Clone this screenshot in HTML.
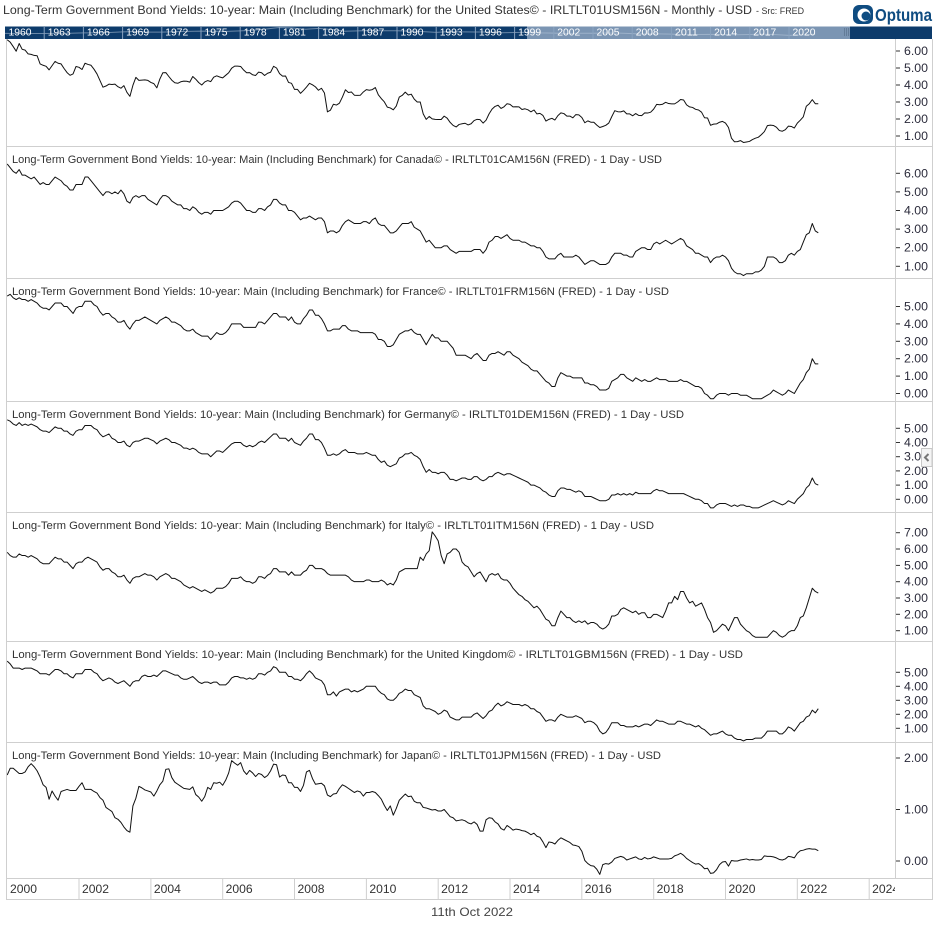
<!DOCTYPE html>
<html><head><meta charset="utf-8"><style>
html,body{margin:0;padding:0;background:#fff;}
svg{display:block;font-family:"Liberation Sans",sans-serif;}
</style></head><body>
<svg width="939" height="932" viewBox="0 0 939 932" xmlns="http://www.w3.org/2000/svg">
<defs>
<clipPath id="c1"><rect x="7" y="39" width="888" height="107"/></clipPath>
<clipPath id="c2"><rect x="7" y="147" width="888" height="131"/></clipPath>
<clipPath id="c3"><rect x="7" y="279" width="888" height="122"/></clipPath>
<clipPath id="c4"><rect x="7" y="402" width="888" height="110"/></clipPath>
<clipPath id="c5"><rect x="7" y="513" width="888" height="128"/></clipPath>
<clipPath id="c6"><rect x="7" y="642" width="888" height="100"/></clipPath>
<clipPath id="c7"><rect x="7" y="743" width="888" height="135"/></clipPath>
<clipPath id="cx"><rect x="7" y="879" width="888" height="20"/></clipPath>
<clipPath id="cn"><rect x="5" y="26.5" width="927" height="12.5"/></clipPath>
</defs>
<rect x="0" y="0" width="939" height="932" fill="#fff"/>

<!-- header -->
<text x="3" y="14" font-size="12" fill="#333" textLength="749" lengthAdjust="spacingAndGlyphs">Long-Term Government Bond Yields: 10-year: Main (Including Benchmark) for the United States© - IRLTLT01USM156N - Monthly - USD</text>
<text x="756" y="14" font-size="9" fill="#333" textLength="48" lengthAdjust="spacingAndGlyphs">- Src: FRED</text>
<rect x="853" y="5" width="20" height="19" rx="6" fill="#0f4c81"/>
<circle cx="864" cy="15" r="6.5" fill="#fff"/>
<circle cx="866" cy="16" r="4.5" fill="#0f4c81"/>
<text x="875" y="21" font-size="17.5" font-weight="bold" fill="#0f4c81" textLength="57" lengthAdjust="spacingAndGlyphs">Optuma</text>

<!-- navigator -->
<rect x="5" y="26.5" width="927" height="12.5" fill="#0d3b6b"/>
<rect x="527" y="26.5" width="323" height="12.5" fill="#7b95b3"/>
<g clip-path="url(#cn)">
<polyline fill="none" stroke="#b8c8da" stroke-opacity="0.55" stroke-width="1" vector-effect="non-scaling-stroke" transform="translate(5,35.86) scale(13.067,-0.6)" points="0,4.12 1,3.88 2,3.95 3,4.00 4,4.19 5,4.28 6,4.93 7,5.07 8,5.64 9,6.67 10,7.35 11,6.16 12,6.21 13,6.85 14,7.56 15,7.99 16,7.61 17,7.42 18,8.41 19,9.43 20,11.43 21,13.92 22,13.01 23,11.10 24,12.46 25,10.62 26,7.67 27,8.39 28,8.85 29,8.49 30,8.55 31,7.86 32,7.01 33,5.87 34,7.09 35,6.57 36,6.44 37,6.35 38,5.26 39,5.65 40,6.03 41,5.02 42,4.61 43,4.01 44,4.27 45,4.29 46,4.80 47,4.63 48,3.66 49,3.26 50,3.21 51,2.79 52,1.80 53,2.35 54,2.54 55,2.14 56,1.84 57,2.33 58,2.91 59,2.14 60,0.89 61,1.45 62,2.9"/>
</g>
<g stroke="#8aa3c0" stroke-width="1">
<line x1="44.2" y1="27" x2="44.2" y2="39"/><line x1="83.4" y1="27" x2="83.4" y2="39"/><line x1="122.6" y1="27" x2="122.6" y2="39"/><line x1="161.8" y1="27" x2="161.8" y2="39"/><line x1="201" y1="27" x2="201" y2="39"/><line x1="240.2" y1="27" x2="240.2" y2="39"/><line x1="279.4" y1="27" x2="279.4" y2="39"/><line x1="318.6" y1="27" x2="318.6" y2="39"/><line x1="357.8" y1="27" x2="357.8" y2="39"/><line x1="397" y1="27" x2="397" y2="39"/><line x1="436.2" y1="27" x2="436.2" y2="39"/><line x1="475.4" y1="27" x2="475.4" y2="39"/><line x1="514.6" y1="27" x2="514.6" y2="39"/><line x1="553.8" y1="27" x2="553.8" y2="39"/><line x1="593" y1="27" x2="593" y2="39"/><line x1="632.2" y1="27" x2="632.2" y2="39"/><line x1="671.4" y1="27" x2="671.4" y2="39"/><line x1="710.6" y1="27" x2="710.6" y2="39"/><line x1="749.8" y1="27" x2="749.8" y2="39"/><line x1="789" y1="27" x2="789" y2="39"/>
</g>
<g stroke="#5e7691" stroke-width="0.8">
<line x1="844.5" y1="28" x2="844.5" y2="36"/><line x1="846.5" y1="28" x2="846.5" y2="36"/><line x1="848.5" y1="28" x2="848.5" y2="36"/>
</g>
<g font-size="10.5" fill="#fff">
<text x="8.5" y="35.5" textLength="23" lengthAdjust="spacingAndGlyphs">1960</text>
<text x="47.7" y="35.5" textLength="23" lengthAdjust="spacingAndGlyphs">1963</text>
<text x="86.9" y="35.5" textLength="23" lengthAdjust="spacingAndGlyphs">1966</text>
<text x="126.1" y="35.5" textLength="23" lengthAdjust="spacingAndGlyphs">1969</text>
<text x="165.3" y="35.5" textLength="23" lengthAdjust="spacingAndGlyphs">1972</text>
<text x="204.5" y="35.5" textLength="23" lengthAdjust="spacingAndGlyphs">1975</text>
<text x="243.7" y="35.5" textLength="23" lengthAdjust="spacingAndGlyphs">1978</text>
<text x="282.9" y="35.5" textLength="23" lengthAdjust="spacingAndGlyphs">1981</text>
<text x="322.1" y="35.5" textLength="23" lengthAdjust="spacingAndGlyphs">1984</text>
<text x="361.3" y="35.5" textLength="23" lengthAdjust="spacingAndGlyphs">1987</text>
<text x="400.5" y="35.5" textLength="23" lengthAdjust="spacingAndGlyphs">1990</text>
<text x="439.7" y="35.5" textLength="23" lengthAdjust="spacingAndGlyphs">1993</text>
<text x="478.9" y="35.5" textLength="23" lengthAdjust="spacingAndGlyphs">1996</text>
<text x="518.1" y="35.5" textLength="23" lengthAdjust="spacingAndGlyphs">1999</text>
<text x="557.3" y="35.5" textLength="23" lengthAdjust="spacingAndGlyphs">2002</text>
<text x="596.5" y="35.5" textLength="23" lengthAdjust="spacingAndGlyphs">2005</text>
<text x="635.7" y="35.5" textLength="23" lengthAdjust="spacingAndGlyphs">2008</text>
<text x="674.9" y="35.5" textLength="23" lengthAdjust="spacingAndGlyphs">2011</text>
<text x="714.1" y="35.5" textLength="23" lengthAdjust="spacingAndGlyphs">2014</text>
<text x="753.3" y="35.5" textLength="23" lengthAdjust="spacingAndGlyphs">2017</text>
<text x="792.5" y="35.5" textLength="23" lengthAdjust="spacingAndGlyphs">2020</text>
</g>

<!-- frame -->
<g stroke="#cfcfcf" stroke-width="1" fill="none">
<line x1="6.5" y1="39" x2="6.5" y2="900"/>
<line x1="932.5" y1="39" x2="932.5" y2="900"/>
<line x1="895.5" y1="39" x2="895.5" y2="878"/>
<line x1="6" y1="146.5" x2="933" y2="146.5"/>
<line x1="6" y1="278.5" x2="933" y2="278.5"/>
<line x1="6" y1="401.5" x2="933" y2="401.5"/>
<line x1="6" y1="512.5" x2="933" y2="512.5"/>
<line x1="6" y1="641.5" x2="933" y2="641.5"/>
<line x1="6" y1="742.5" x2="933" y2="742.5"/>
<line x1="6" y1="878.5" x2="933" y2="878.5"/>
<line x1="6" y1="899.5" x2="933" y2="899.5"/>
<line x1="79" y1="879" x2="79" y2="899"/><line x1="150.9" y1="879" x2="150.9" y2="899"/><line x1="222.7" y1="879" x2="222.7" y2="899"/><line x1="294.5" y1="879" x2="294.5" y2="899"/><line x1="366.4" y1="879" x2="366.4" y2="899"/><line x1="438.2" y1="879" x2="438.2" y2="899"/><line x1="510" y1="879" x2="510" y2="899"/><line x1="581.8" y1="879" x2="581.8" y2="899"/><line x1="653.7" y1="879" x2="653.7" y2="899"/><line x1="725.5" y1="879" x2="725.5" y2="899"/><line x1="797.3" y1="879" x2="797.3" y2="899"/><line x1="869.2" y1="879" x2="869.2" y2="899"/>
</g>

<!-- x axis labels -->
<g font-size="12" fill="#333" clip-path="url(#cx)">
<text x="10" y="893" textLength="27" lengthAdjust="spacingAndGlyphs">2000</text>
<text x="82" y="893" textLength="27" lengthAdjust="spacingAndGlyphs">2002</text>
<text x="153.9" y="893" textLength="27" lengthAdjust="spacingAndGlyphs">2004</text>
<text x="225.7" y="893" textLength="27" lengthAdjust="spacingAndGlyphs">2006</text>
<text x="297.5" y="893" textLength="27" lengthAdjust="spacingAndGlyphs">2008</text>
<text x="369.4" y="893" textLength="27" lengthAdjust="spacingAndGlyphs">2010</text>
<text x="441.2" y="893" textLength="27" lengthAdjust="spacingAndGlyphs">2012</text>
<text x="513" y="893" textLength="27" lengthAdjust="spacingAndGlyphs">2014</text>
<text x="584.8" y="893" textLength="27" lengthAdjust="spacingAndGlyphs">2016</text>
<text x="656.7" y="893" textLength="27" lengthAdjust="spacingAndGlyphs">2018</text>
<text x="728.5" y="893" textLength="27" lengthAdjust="spacingAndGlyphs">2020</text>
<text x="800.3" y="893" textLength="27" lengthAdjust="spacingAndGlyphs">2022</text>
<text x="872.2" y="893" textLength="27" lengthAdjust="spacingAndGlyphs">2024</text>
</g>
<text x="431" y="916" font-size="12" fill="#444" textLength="82" lengthAdjust="spacingAndGlyphs">11th Oct 2022</text>

<!-- panel titles -->
<g font-size="11" fill="#333">
<text x="12" y="163" textLength="650" lengthAdjust="spacingAndGlyphs">Long-Term Government Bond Yields: 10-year: Main (Including Benchmark) for Canada© - IRLTLT01CAM156N (FRED) - 1 Day - USD</text>
<text x="12" y="295" textLength="657" lengthAdjust="spacingAndGlyphs">Long-Term Government Bond Yields: 10-year: Main (Including Benchmark) for France© - IRLTLT01FRM156N (FRED) - 1 Day - USD</text>
<text x="12" y="418" textLength="672" lengthAdjust="spacingAndGlyphs">Long-Term Government Bond Yields: 10-year: Main (Including Benchmark) for Germany© - IRLTLT01DEM156N (FRED) - 1 Day - USD</text>
<text x="12" y="529" textLength="642" lengthAdjust="spacingAndGlyphs">Long-Term Government Bond Yields: 10-year: Main (Including Benchmark) for Italy© - IRLTLT01ITM156N (FRED) - 1 Day - USD</text>
<text x="12" y="658" textLength="731" lengthAdjust="spacingAndGlyphs">Long-Term Government Bond Yields: 10-year: Main (Including Benchmark) for the United Kingdom© - IRLTLT01GBM156N (FRED) - 1 Day - USD</text>
<text x="12" y="759" textLength="649" lengthAdjust="spacingAndGlyphs">Long-Term Government Bond Yields: 10-year: Main (Including Benchmark) for Japan© - IRLTLT01JPM156N (FRED) - 1 Day - USD</text>
</g>

<!-- series -->
<g fill="none" stroke="#111" stroke-width="1" stroke-linejoin="round">
<g clip-path="url(#c1)"><polyline vector-effect="non-scaling-stroke" transform="translate(7.2,153) scale(2.9929,-17)" points="0,6.66 1,6.52 2,6.26 3,5.99 4,6.44 5,6.10 6,6.05 7,5.83 8,5.80 9,5.74 10,5.72 11,5.24 12,5.16 13,5.10 14,4.89 15,5.14 16,5.39 17,5.28 18,5.24 19,4.97 20,4.73 21,4.57 22,4.65 23,5.09 24,5.04 25,4.91 26,5.28 27,5.21 28,5.16 29,4.93 30,4.65 31,4.26 32,3.87 33,3.94 34,4.05 35,4.03 36,4.05 37,3.90 38,3.81 39,3.96 40,3.57 41,3.33 42,3.98 43,4.45 44,4.27 45,4.29 46,4.30 47,4.27 48,4.15 49,4.08 50,3.83 51,4.35 52,4.72 53,4.73 54,4.50 55,4.28 56,4.13 57,4.10 58,4.19 59,4.23 60,4.22 61,4.17 62,4.50 63,4.34 64,4.14 65,4.00 66,4.18 67,4.26 68,4.20 69,4.46 70,4.54 71,4.47 72,4.42 73,4.57 74,4.72 75,4.99 76,5.11 77,5.11 78,5.09 79,4.88 80,4.72 81,4.73 82,4.60 83,4.56 84,4.76 85,4.72 86,4.56 87,4.69 88,4.75 89,5.10 90,5.00 91,4.67 92,4.52 93,4.53 94,4.15 95,4.10 96,3.74 97,3.74 98,3.51 99,3.68 100,3.88 101,4.10 102,4.01 103,3.89 104,3.69 105,3.81 106,3.53 107,2.42 108,2.52 109,2.87 110,2.82 111,2.93 112,3.29 113,3.72 114,3.56 115,3.59 116,3.40 117,3.39 118,3.40 119,3.59 120,3.73 121,3.69 122,3.73 123,3.85 124,3.42 125,3.20 126,3.01 127,2.70 128,2.65 129,2.54 130,2.76 131,3.29 132,3.39 133,3.58 134,3.41 135,3.46 136,3.17 137,3.00 138,3.00 139,2.30 140,1.98 141,2.15 142,2.01 143,1.98 144,1.97 145,1.97 146,2.17 147,2.05 148,1.80 149,1.62 150,1.53 151,1.68 152,1.72 153,1.75 154,1.65 155,1.72 156,1.91 157,1.98 158,1.96 159,1.76 160,1.93 161,2.30 162,2.58 163,2.74 164,2.81 165,2.62 166,2.72 167,2.90 168,2.86 169,2.71 170,2.72 171,2.71 172,2.56 173,2.60 174,2.54 175,2.42 176,2.53 177,2.30 178,2.33 179,2.21 180,1.88 181,1.98 182,2.04 183,1.94 184,2.20 185,2.36 186,2.32 187,2.17 188,2.17 189,2.07 190,2.26 191,2.24 192,2.09 193,1.78 194,1.89 195,1.81 196,1.81 197,1.64 198,1.50 199,1.56 200,1.63 201,1.76 202,2.14 203,2.49 204,2.43 205,2.42 206,2.48 207,2.30 208,2.30 209,2.19 210,2.32 211,2.21 212,2.20 213,2.36 214,2.35 215,2.40 216,2.58 217,2.86 218,2.84 219,2.87 220,2.98 221,2.91 222,2.89 223,2.89 224,3.00 225,3.15 226,3.12 227,2.83 228,2.71 229,2.68 230,2.57 231,2.53 232,2.40 233,2.07 234,2.06 235,1.63 236,1.70 237,1.71 238,1.81 239,1.86 240,1.76 241,1.50 242,0.87 243,0.66 244,0.67 245,0.73 246,0.62 247,0.65 248,0.68 249,0.79 250,0.87 251,0.93 252,1.08 253,1.26 254,1.61 255,1.64 256,1.62 257,1.52 258,1.32 259,1.28 260,1.37 261,1.58 262,1.56 263,1.47 264,1.76 265,1.93 266,2.13 267,2.75 268,2.90 269,3.14 270,2.90 271,2.90"/></g>
<g clip-path="url(#c2)"><polyline vector-effect="non-scaling-stroke" transform="translate(7.2,284.9) scale(2.9929,-18.6)" points="0,6.5 1,6.3 2,6.1 3,6.0 4,6.2 5,5.9 6,5.9 7,5.8 8,5.7 9,5.8 10,5.6 11,5.4 12,5.5 13,5.4 14,5.4 15,5.6 16,5.8 17,5.7 18,5.6 19,5.4 20,5.3 21,5.1 22,5.1 23,5.4 24,5.4 25,5.4 26,5.8 27,5.8 28,5.6 29,5.4 30,5.2 31,5.0 32,4.8 33,5.0 34,5.0 35,4.9 36,5.0 37,4.9 38,5.1 39,4.9 40,4.5 41,4.4 42,4.7 43,4.8 44,4.7 45,4.8 46,4.8 47,4.6 48,4.5 49,4.4 50,4.3 51,4.6 52,4.8 53,4.8 54,4.7 55,4.5 56,4.4 57,4.3 58,4.3 59,4.1 60,4.1 61,4.0 62,4.2 63,4.1 64,3.9 65,3.8 66,3.9 67,3.9 68,3.8 69,4.0 70,4.0 71,4.0 72,4.0 73,4.1 74,4.2 75,4.4 76,4.5 77,4.5 78,4.4 79,4.2 80,4.0 81,4.0 82,3.9 83,3.9 84,4.1 85,4.1 86,4.0 87,4.2 88,4.3 89,4.6 90,4.6 91,4.4 92,4.3 93,4.3 94,4.0 95,4.0 96,3.9 97,3.7 98,3.5 99,3.6 100,3.6 101,3.7 102,3.6 103,3.5 104,3.6 105,3.6 106,3.4 107,2.8 108,2.9 109,2.9 110,2.8 111,2.9 112,3.2 113,3.4 114,3.5 115,3.4 116,3.3 117,3.3 118,3.3 119,3.4 120,3.4 121,3.3 122,3.5 123,3.6 124,3.3 125,3.2 126,3.2 127,3.0 128,2.8 129,2.8 130,2.9 131,3.1 132,3.3 133,3.3 134,3.3 135,3.4 136,3.1 137,3.0 138,2.9 139,2.6 140,2.3 141,2.4 142,2.2 143,2.0 144,2.0 145,2.0 146,2.1 147,2.1 148,1.9 149,1.8 150,1.7 151,1.8 152,1.8 153,1.8 154,1.8 155,1.8 156,1.9 157,1.9 158,1.9 159,1.7 160,1.9 161,2.3 162,2.4 163,2.6 164,2.6 165,2.5 166,2.6 167,2.7 168,2.5 169,2.4 170,2.4 171,2.4 172,2.3 173,2.3 174,2.2 175,2.1 176,2.1 177,2.0 178,2.0 179,1.8 180,1.5 181,1.4 182,1.4 183,1.4 184,1.6 185,1.7 186,1.5 187,1.5 188,1.5 189,1.5 190,1.6 191,1.5 192,1.3 193,1.1 194,1.2 195,1.3 196,1.3 197,1.2 198,1.1 199,1.1 200,1.1 201,1.2 202,1.5 203,1.7 204,1.7 205,1.7 206,1.6 207,1.6 208,1.5 209,1.5 210,1.8 211,1.9 212,2.0 213,2.0 214,1.9 215,1.9 216,2.2 217,2.3 218,2.2 219,2.3 220,2.4 221,2.3 222,2.2 223,2.3 224,2.4 225,2.5 226,2.4 227,2.1 228,2.0 229,1.9 230,1.7 231,1.7 232,1.6 233,1.5 234,1.5 235,1.2 236,1.4 237,1.5 238,1.5 239,1.6 240,1.5 241,1.3 242,0.9 243,0.7 244,0.6 245,0.6 246,0.5 247,0.6 248,0.6 249,0.6 250,0.7 251,0.7 252,0.8 253,1.0 254,1.5 255,1.5 256,1.5 257,1.4 258,1.2 259,1.2 260,1.3 261,1.6 262,1.7 263,1.6 264,1.8 265,1.9 266,2.3 267,2.7 268,2.8 269,3.3 270,2.9 271,2.8"/></g>
<g clip-path="url(#c3)"><polyline vector-effect="non-scaling-stroke" transform="translate(7.2,393.5) scale(2.9929,-17.4)" points="0,5.6 1,5.7 2,5.5 3,5.4 4,5.5 5,5.4 6,5.4 7,5.3 8,5.4 9,5.3 10,5.2 11,5.0 12,4.9 13,4.9 14,4.8 15,5.0 16,5.2 17,5.2 18,5.2 19,5.0 20,5.0 21,4.8 22,4.6 23,4.9 24,5.0 25,5.0 26,5.3 27,5.3 28,5.3 29,5.1 30,5.0 31,4.7 32,4.5 33,4.6 34,4.6 35,4.4 36,4.3 37,4.1 38,4.1 39,4.2 40,3.9 41,3.7 42,4.0 43,4.2 44,4.2 45,4.3 46,4.4 47,4.3 48,4.2 49,4.1 50,4.0 51,4.2 52,4.3 53,4.4 54,4.3 55,4.1 56,4.1 57,4.0 58,3.9 59,3.7 60,3.6 61,3.6 62,3.7 63,3.5 64,3.4 65,3.3 66,3.3 67,3.3 68,3.1 69,3.3 70,3.5 71,3.4 72,3.4 73,3.5 74,3.7 75,4.0 76,4.0 77,4.0 78,4.0 79,3.8 80,3.8 81,3.8 82,3.8 83,3.8 84,4.1 85,4.1 86,4.0 87,4.2 88,4.4 89,4.6 90,4.6 91,4.4 92,4.4 93,4.4 94,4.2 95,4.4 96,4.1 97,4.0 98,4.0 99,4.3 100,4.5 101,4.8 102,4.8 103,4.5 104,4.5 105,4.3 106,4.0 107,3.6 108,3.6 109,3.7 110,3.7 111,3.7 112,3.9 113,3.9 114,3.7 115,3.6 116,3.6 117,3.6 118,3.5 119,3.5 120,3.5 121,3.5 122,3.5 123,3.4 124,3.1 125,3.1 126,3.0 127,2.7 128,2.7 129,2.8 130,3.1 131,3.4 132,3.5 133,3.6 134,3.6 135,3.7 136,3.5 137,3.4 138,3.4 139,3.1 140,2.8 141,3.1 142,3.4 143,3.2 144,3.2 145,3.0 146,3.0 147,3.0 148,2.8 149,2.6 150,2.2 151,2.2 152,2.2 153,2.2 154,2.1 155,2.0 156,2.2 157,2.3 158,2.1 159,1.9 160,1.9 161,2.2 162,2.3 163,2.3 164,2.4 165,2.3 166,2.2 167,2.4 168,2.4 169,2.2 170,2.1 171,2.0 172,1.8 173,1.7 174,1.6 175,1.4 176,1.3 177,1.3 178,1.1 179,0.9 180,0.7 181,0.6 182,0.4 183,0.4 184,0.9 185,1.2 186,1.1 187,1.0 188,1.0 189,0.9 190,0.9 191,0.9 192,0.9 193,0.6 194,0.6 195,0.5 196,0.5 197,0.4 198,0.2 199,0.2 200,0.2 201,0.3 202,0.7 203,0.8 204,0.9 205,1.1 206,1.1 207,0.9 208,0.8 209,0.7 210,0.9 211,0.8 212,0.7 213,0.8 214,0.7 215,0.7 216,0.8 217,0.9 218,0.8 219,0.8 220,0.8 221,0.7 222,0.7 223,0.7 224,0.7 225,0.8 226,0.7 227,0.7 228,0.6 229,0.5 230,0.4 231,0.4 232,0.3 233,0.0 234,-0.1 235,-0.3 236,-0.3 237,-0.1 238,0.0 239,0.0 240,0.0 241,-0.1 242,0.0 243,0.0 244,0.0 245,-0.1 246,-0.1 247,-0.1 248,-0.2 249,-0.3 250,-0.3 251,-0.3 252,-0.3 253,-0.2 254,-0.1 255,0.0 256,0.2 257,0.1 258,0.0 259,-0.1 260,0.0 261,0.2 262,0.1 263,0.0 264,0.3 265,0.6 266,0.8 267,1.2 268,1.4 269,2.0 270,1.7 271,1.7"/></g>
<g clip-path="url(#c4)"><polyline vector-effect="non-scaling-stroke" transform="translate(7.2,499.3) scale(2.9929,-14.2)" points="0,5.6 1,5.5 2,5.3 3,5.2 4,5.4 5,5.2 6,5.3 7,5.2 8,5.3 9,5.2 10,5.1 11,4.9 12,4.8 13,4.8 14,4.7 15,4.9 16,5.1 17,5.0 18,5.0 19,4.8 20,4.8 21,4.6 22,4.5 23,4.8 24,4.9 25,4.9 26,5.2 27,5.2 28,5.2 29,5.0 30,4.9 31,4.6 32,4.4 33,4.5 34,4.6 35,4.3 36,4.2 37,4.0 38,4.0 39,4.1 40,3.8 41,3.7 42,4.0 43,4.1 44,4.1 45,4.2 46,4.3 47,4.3 48,4.2 49,4.1 50,3.9 51,4.1 52,4.2 53,4.3 54,4.2 55,4.0 56,4.0 57,3.9 58,3.8 59,3.6 60,3.6 61,3.5 62,3.6 63,3.5 64,3.3 65,3.2 66,3.2 67,3.2 68,3.0 69,3.2 70,3.4 71,3.4 72,3.3 73,3.5 74,3.7 75,3.9 76,4.0 77,4.0 78,4.0 79,3.8 80,3.7 81,3.8 82,3.7 83,3.8 84,4.0 85,4.1 86,4.0 87,4.2 88,4.4 89,4.6 90,4.6 91,4.3 92,4.3 93,4.3 94,4.1 95,4.3 96,4.0 97,3.9 98,3.8 99,4.1 100,4.3 101,4.6 102,4.6 103,4.2 104,4.2 105,4.0 106,3.6 107,3.1 108,3.1 109,3.2 110,3.1 111,3.2 112,3.4 113,3.5 114,3.3 115,3.3 116,3.3 117,3.2 118,3.2 119,3.2 120,3.3 121,3.2 122,3.1 123,3.1 124,2.8 125,2.6 126,2.7 127,2.4 128,2.3 129,2.4 130,2.5 131,2.9 132,3.0 133,3.2 134,3.2 135,3.3 136,3.1 137,3.0 138,2.8 139,2.3 140,1.9 141,2.1 142,1.9 143,1.9 144,1.8 145,1.9 146,1.9 147,1.7 148,1.4 149,1.4 150,1.3 151,1.4 152,1.5 153,1.5 154,1.4 155,1.4 156,1.6 157,1.6 158,1.4 159,1.3 160,1.4 161,1.6 162,1.6 163,1.8 164,1.9 165,1.8 166,1.7 167,1.8 168,1.8 169,1.7 170,1.6 171,1.5 172,1.4 173,1.3 174,1.2 175,1.0 176,1.0 177,0.9 178,0.8 179,0.6 180,0.5 181,0.3 182,0.2 183,0.2 184,0.6 185,0.8 186,0.8 187,0.7 188,0.7 189,0.6 190,0.5 191,0.6 192,0.5 193,0.2 194,0.2 195,0.2 196,0.1 197,0.0 198,-0.1 199,-0.1 200,-0.1 201,0.0 202,0.3 203,0.3 204,0.4 205,0.3 206,0.4 207,0.3 208,0.4 209,0.3 210,0.5 211,0.4 212,0.4 213,0.4 214,0.4 215,0.4 216,0.6 217,0.7 218,0.6 219,0.6 220,0.5 221,0.4 222,0.4 223,0.4 224,0.4 225,0.4 226,0.4 227,0.3 228,0.2 229,0.1 230,0.0 231,0.0 232,-0.1 233,-0.3 234,-0.3 235,-0.6 236,-0.6 237,-0.4 238,-0.3 239,-0.3 240,-0.3 241,-0.4 242,-0.5 243,-0.4 244,-0.5 245,-0.4 246,-0.4 247,-0.5 248,-0.5 249,-0.6 250,-0.6 251,-0.6 252,-0.5 253,-0.4 254,-0.3 255,-0.2 256,-0.1 257,-0.2 258,-0.3 259,-0.4 260,-0.3 261,-0.1 262,-0.2 263,-0.3 264,0.0 265,0.2 266,0.4 267,0.8 268,1.0 269,1.5 270,1.1 271,1.0"/></g>
<g clip-path="url(#c5)"><polyline vector-effect="non-scaling-stroke" transform="translate(7.2,647) scale(2.9929,-16.33)" points="0,5.8 1,5.6 2,5.5 3,5.5 4,5.7 5,5.6 6,5.6 7,5.5 8,5.6 9,5.5 10,5.4 11,5.2 12,5.1 13,5.1 14,5.1 15,5.3 16,5.5 17,5.4 18,5.4 19,5.2 20,5.2 21,5.0 22,4.8 23,5.1 24,5.2 25,5.2 26,5.4 27,5.5 28,5.4 29,5.3 30,5.2 31,4.9 32,4.7 33,4.8 34,4.8 35,4.6 36,4.5 37,4.3 38,4.3 39,4.4 40,4.1 41,3.9 42,4.2 43,4.3 44,4.3 45,4.4 46,4.5 47,4.4 48,4.4 49,4.3 50,4.1 51,4.3 52,4.4 53,4.5 54,4.4 55,4.2 56,4.2 57,4.1 58,4.0 59,3.8 60,3.7 61,3.6 62,3.7 63,3.6 64,3.5 65,3.4 66,3.5 67,3.4 68,3.3 69,3.4 70,3.6 71,3.6 72,3.6 73,3.7 74,3.9 75,4.2 76,4.2 77,4.2 78,4.3 79,4.1 80,4.0 81,4.0 82,3.9 83,4.0 84,4.3 85,4.3 86,4.2 87,4.4 88,4.5 89,4.8 90,4.8 91,4.6 92,4.6 93,4.6 94,4.4 95,4.6 96,4.4 97,4.4 98,4.4 99,4.6 100,4.7 101,5.0 102,5.0 103,4.8 104,4.8 105,4.8 106,4.7 107,4.5 108,4.4 109,4.4 110,4.4 111,4.4 112,4.4 113,4.4 114,4.3 115,4.1 116,4.0 117,4.0 118,4.0 119,4.0 120,4.1 121,4.1 122,4.0 123,4.0 124,4.0 125,4.1 126,4.0 127,3.8 128,3.9 129,3.8 130,4.1 131,4.6 132,4.7 133,4.8 134,4.8 135,4.8 136,4.8 137,4.8 138,5.5 139,5.3 140,5.7 141,5.9 142,7.05 143,6.8 144,6.5 145,5.6 146,5.1 147,5.7 148,5.8 149,6.0 150,6.0 151,5.8 152,5.2 153,5.0 154,4.9 155,4.6 156,4.3 157,4.5 158,4.6 159,4.3 160,4.0 161,4.4 162,4.5 163,4.4 164,4.5 165,4.2 166,4.1 167,4.1 168,3.9 169,3.6 170,3.4 171,3.2 172,3.1 173,2.9 174,2.8 175,2.6 176,2.4 177,2.5 178,2.3 179,2.0 180,1.7 181,1.6 182,1.3 183,1.3 184,1.8 185,2.2 186,2.0 187,1.8 188,1.8 189,1.6 190,1.5 191,1.6 192,1.5 193,1.6 194,1.4 195,1.5 196,1.5 197,1.4 198,1.2 199,1.1 200,1.2 201,1.4 202,1.9 203,1.9 204,2.0 205,2.3 206,2.4 207,2.3 208,2.2 209,2.1 210,2.2 211,2.0 212,2.1 213,2.1 214,1.8 215,1.8 216,2.0 217,2.0 218,1.9 219,1.8 220,2.2 221,2.7 222,2.7 223,3.1 224,2.9 225,3.4 226,3.4 227,3.0 228,2.7 229,2.8 230,2.5 231,2.6 232,2.7 233,2.3 234,1.8 235,1.5 236,0.9 237,1.0 238,1.2 239,1.4 240,1.3 241,1.0 242,1.4 243,1.8 244,1.8 245,1.4 246,1.2 247,1.0 248,0.9 249,0.7 250,0.6 251,0.6 252,0.6 253,0.6 254,0.6 255,0.8 256,1.0 257,0.9 258,0.7 259,0.6 260,0.7 261,0.9 262,1.0 263,1.0 264,1.3 265,1.8 266,1.9 267,2.4 268,3.0 269,3.6 270,3.4 271,3.3"/></g>
<g clip-path="url(#c6)"><polyline vector-effect="non-scaling-stroke" transform="translate(7.2,742.3) scale(2.9929,-14)" points="0,5.8 1,5.6 2,5.3 3,5.3 4,5.3 5,5.2 6,5.3 7,5.3 8,5.3 9,5.2 10,5.1 11,4.9 12,4.9 13,4.9 14,4.8 15,5.0 16,5.2 17,5.2 18,5.1 19,4.9 20,4.9 21,4.7 22,4.6 23,4.9 24,4.9 25,4.9 26,5.2 27,5.2 28,5.2 29,5.0 30,4.9 31,4.6 32,4.4 33,4.5 34,4.6 35,4.5 36,4.3 37,4.2 38,4.3 39,4.4 40,4.2 41,4.0 42,4.3 43,4.4 44,4.4 45,4.7 46,4.8 47,4.7 48,4.7 49,4.8 50,4.7 51,4.9 52,5.1 53,5.1 54,5.0 55,4.9 56,4.8 57,4.8 58,4.6 59,4.5 60,4.5 61,4.6 62,4.7 63,4.5 64,4.3 65,4.2 66,4.3 67,4.3 68,4.2 69,4.3 70,4.3 71,4.1 72,4.1 73,4.1 74,4.3 75,4.6 76,4.7 77,4.7 78,4.6 79,4.6 80,4.5 81,4.6 82,4.5 83,4.6 84,4.9 85,4.9 86,4.8 87,5.0 88,5.1 89,5.4 90,5.3 91,5.0 92,5.0 93,5.0 94,4.7 95,4.7 96,4.5 97,4.5 98,4.4 99,4.6 100,4.9 101,5.1 102,4.9 103,4.6 104,4.5 105,4.4 106,4.1 107,3.4 108,3.4 109,3.6 110,3.3 111,3.6 112,3.7 113,3.8 114,3.8 115,3.6 116,3.7 117,3.6 118,3.7 119,3.8 120,4.0 121,4.0 122,4.0 123,4.0 124,3.7 125,3.5 126,3.4 127,3.1 128,3.0 129,3.0 130,3.2 131,3.5 132,3.6 133,3.8 134,3.7 135,3.7 136,3.4 137,3.3 138,3.2 139,2.6 140,2.4 141,2.4 142,2.3 143,2.2 144,2.0 145,2.1 146,2.3 147,2.2 148,1.8 149,1.7 150,1.6 151,1.6 152,1.8 153,1.8 154,1.8 155,1.8 156,2.0 157,2.1 158,1.9 159,1.7 160,1.9 161,2.2 162,2.3 163,2.6 164,2.8 165,2.6 166,2.7 167,2.9 168,2.8 169,2.7 170,2.7 171,2.7 172,2.6 173,2.7 174,2.6 175,2.4 176,2.4 177,2.2 178,2.1 179,1.8 180,1.5 181,1.6 182,1.6 183,1.5 184,1.8 185,2.0 186,1.9 187,1.8 188,1.8 189,1.8 190,1.9 191,1.8 192,1.7 193,1.4 194,1.5 195,1.5 196,1.4 197,1.2 198,0.8 199,0.6 200,0.7 201,1.0 202,1.4 203,1.4 204,1.4 205,1.2 206,1.2 207,1.1 208,1.1 209,1.1 210,1.2 211,1.1 212,1.2 213,1.3 214,1.3 215,1.2 216,1.4 217,1.6 218,1.5 219,1.5 220,1.4 221,1.3 222,1.3 223,1.3 224,1.5 225,1.5 226,1.4 227,1.3 228,1.3 229,1.2 230,1.1 231,1.2 232,1.0 233,0.9 234,0.7 235,0.5 236,0.6 237,0.6 238,0.7 239,0.8 240,0.6 241,0.5 242,0.5 243,0.3 244,0.2 245,0.2 246,0.1 247,0.2 248,0.2 249,0.2 250,0.3 251,0.3 252,0.3 253,0.5 254,0.8 255,0.8 256,0.8 257,0.8 258,0.6 259,0.6 260,0.8 261,1.1 262,1.0 263,0.8 264,1.1 265,1.4 266,1.5 267,1.8 268,1.9 269,2.3 270,2.1 271,2.4"/></g>
<g clip-path="url(#c7)"><polyline vector-effect="non-scaling-stroke" transform="translate(7.2,861) scale(2.9929,-51.5)" points="0,1.67 1,1.80 2,1.80 3,1.75 4,1.70 5,1.70 6,1.73 7,1.83 8,1.89 9,1.83 10,1.75 11,1.63 12,1.48 13,1.43 14,1.20 15,1.36 16,1.26 17,1.18 18,1.35 19,1.37 20,1.39 21,1.37 22,1.37 23,1.37 24,1.45 25,1.52 26,1.39 27,1.39 28,1.39 29,1.35 30,1.32 31,1.23 32,1.18 33,1.04 34,1.00 35,0.96 36,0.84 37,0.81 38,0.75 39,0.66 40,0.59 41,0.56 42,1.07 43,1.22 44,1.45 45,1.42 46,1.38 47,1.36 48,1.34 49,1.26 50,1.36 51,1.48 52,1.55 53,1.78 54,1.79 55,1.62 56,1.53 57,1.49 58,1.45 59,1.41 60,1.40 61,1.39 62,1.44 63,1.29 64,1.24 65,1.16 66,1.25 67,1.43 68,1.39 69,1.52 70,1.51 71,1.53 72,1.47 73,1.57 74,1.71 75,1.95 76,1.90 77,1.86 78,1.91 79,1.75 80,1.68 81,1.76 82,1.71 83,1.64 84,1.70 85,1.68 86,1.62 87,1.66 88,1.75 89,1.88 90,1.87 91,1.63 92,1.67 93,1.66 94,1.52 95,1.52 96,1.43 97,1.43 98,1.35 99,1.47 100,1.73 101,1.76 102,1.60 103,1.49 104,1.50 105,1.51 106,1.46 107,1.28 108,1.25 109,1.30 110,1.31 111,1.41 112,1.48 113,1.45 114,1.41 115,1.37 116,1.33 117,1.36 118,1.34 119,1.26 120,1.33 121,1.33 122,1.35 123,1.33 124,1.27 125,1.20 126,1.08 127,0.98 128,1.07 129,0.89 130,1.02 131,1.18 132,1.24 133,1.30 134,1.25 135,1.26 136,1.16 137,1.13 138,1.13 139,1.04 140,1.03 141,1.01 142,0.99 143,1.00 144,0.97 145,0.97 146,1.00 147,0.93 148,0.86 149,0.84 150,0.78 151,0.79 152,0.80 153,0.78 154,0.74 155,0.72 156,0.76 157,0.71 158,0.58 159,0.58 160,0.80 161,0.84 162,0.83 163,0.76 164,0.72 165,0.63 166,0.60 167,0.69 168,0.65 169,0.60 170,0.62 171,0.61 172,0.59 173,0.58 174,0.55 175,0.51 176,0.54 177,0.48 178,0.46 179,0.37 180,0.26 181,0.37 182,0.36 183,0.33 184,0.40 185,0.45 186,0.42 187,0.39 188,0.36 189,0.31 190,0.30 191,0.28 192,0.19 193,0.01 194,-0.05 195,-0.09 196,-0.10 197,-0.16 198,-0.26 199,-0.07 200,-0.05 201,-0.06 202,-0.02 203,0.05 204,0.07 205,0.09 206,0.07 207,0.02 208,0.04 209,0.06 210,0.08 211,0.04 212,0.03 213,0.07 214,0.04 215,0.05 216,0.08 217,0.06 218,0.04 219,0.04 220,0.04 221,0.04 222,0.05 223,0.10 224,0.12 225,0.15 226,0.11 227,0.05 228,0.01 229,-0.03 230,-0.06 231,-0.05 232,-0.09 233,-0.15 234,-0.14 235,-0.24 236,-0.23 237,-0.17 238,-0.07 239,-0.02 240,-0.01 241,-0.10 242,0.01 243,0.00 244,0.00 245,0.02 246,0.03 247,0.04 248,0.02 249,0.03 250,0.02 251,0.02 252,0.03 253,0.10 254,0.09 255,0.09 256,0.08 257,0.06 258,0.03 259,0.02 260,0.04 261,0.09 262,0.08 263,0.06 264,0.15 265,0.20 266,0.21 267,0.23 268,0.24 269,0.23 270,0.23 271,0.20"/></g>
</g>

<!-- y axis ticks -->
<g stroke="#333" stroke-width="1">
<line x1="896" y1="51" x2="900" y2="51"/><line x1="896" y1="68" x2="900" y2="68"/><line x1="896" y1="85" x2="900" y2="85"/><line x1="896" y1="102" x2="900" y2="102"/><line x1="896" y1="119" x2="900" y2="119"/><line x1="896" y1="136" x2="900" y2="136"/>
<line x1="896" y1="173.3" x2="900" y2="173.3"/><line x1="896" y1="191.9" x2="900" y2="191.9"/><line x1="896" y1="210.5" x2="900" y2="210.5"/><line x1="896" y1="229.1" x2="900" y2="229.1"/><line x1="896" y1="247.7" x2="900" y2="247.7"/><line x1="896" y1="266.3" x2="900" y2="266.3"/>
<line x1="896" y1="306.5" x2="900" y2="306.5"/><line x1="896" y1="323.9" x2="900" y2="323.9"/><line x1="896" y1="341.3" x2="900" y2="341.3"/><line x1="896" y1="358.7" x2="900" y2="358.7"/><line x1="896" y1="376.1" x2="900" y2="376.1"/><line x1="896" y1="393.5" x2="900" y2="393.5"/>
<line x1="896" y1="428.3" x2="900" y2="428.3"/><line x1="896" y1="442.5" x2="900" y2="442.5"/><line x1="896" y1="456.7" x2="900" y2="456.7"/><line x1="896" y1="470.9" x2="900" y2="470.9"/><line x1="896" y1="485.1" x2="900" y2="485.1"/><line x1="896" y1="499.3" x2="900" y2="499.3"/>
<line x1="896" y1="532.7" x2="900" y2="532.7"/><line x1="896" y1="549" x2="900" y2="549"/><line x1="896" y1="565.4" x2="900" y2="565.4"/><line x1="896" y1="581.7" x2="900" y2="581.7"/><line x1="896" y1="598" x2="900" y2="598"/><line x1="896" y1="614.3" x2="900" y2="614.3"/><line x1="896" y1="630.7" x2="900" y2="630.7"/>
<line x1="896" y1="672.3" x2="900" y2="672.3"/><line x1="896" y1="686.3" x2="900" y2="686.3"/><line x1="896" y1="700.3" x2="900" y2="700.3"/><line x1="896" y1="714.3" x2="900" y2="714.3"/><line x1="896" y1="728.3" x2="900" y2="728.3"/>
<line x1="896" y1="758" x2="900" y2="758"/><line x1="896" y1="809.5" x2="900" y2="809.5"/><line x1="896" y1="861" x2="900" y2="861"/>
</g>
<g font-size="11.5" fill="#2a2a3a">
<text x="904" y="55" textLength="24" lengthAdjust="spacingAndGlyphs">6.00</text>
<text x="904" y="72" textLength="24" lengthAdjust="spacingAndGlyphs">5.00</text>
<text x="904" y="89" textLength="24" lengthAdjust="spacingAndGlyphs">4.00</text>
<text x="904" y="106" textLength="24" lengthAdjust="spacingAndGlyphs">3.00</text>
<text x="904" y="123" textLength="24" lengthAdjust="spacingAndGlyphs">2.00</text>
<text x="904" y="140" textLength="24" lengthAdjust="spacingAndGlyphs">1.00</text>
<text x="904" y="177.3" textLength="24" lengthAdjust="spacingAndGlyphs">6.00</text>
<text x="904" y="195.9" textLength="24" lengthAdjust="spacingAndGlyphs">5.00</text>
<text x="904" y="214.5" textLength="24" lengthAdjust="spacingAndGlyphs">4.00</text>
<text x="904" y="233.1" textLength="24" lengthAdjust="spacingAndGlyphs">3.00</text>
<text x="904" y="251.7" textLength="24" lengthAdjust="spacingAndGlyphs">2.00</text>
<text x="904" y="270.3" textLength="24" lengthAdjust="spacingAndGlyphs">1.00</text>
<text x="904" y="310.5" textLength="24" lengthAdjust="spacingAndGlyphs">5.00</text>
<text x="904" y="327.9" textLength="24" lengthAdjust="spacingAndGlyphs">4.00</text>
<text x="904" y="345.3" textLength="24" lengthAdjust="spacingAndGlyphs">3.00</text>
<text x="904" y="362.7" textLength="24" lengthAdjust="spacingAndGlyphs">2.00</text>
<text x="904" y="380.1" textLength="24" lengthAdjust="spacingAndGlyphs">1.00</text>
<text x="904" y="397.5" textLength="24" lengthAdjust="spacingAndGlyphs">0.00</text>
<text x="904" y="432.3" textLength="24" lengthAdjust="spacingAndGlyphs">5.00</text>
<text x="904" y="446.5" textLength="24" lengthAdjust="spacingAndGlyphs">4.00</text>
<text x="904" y="460.7" textLength="24" lengthAdjust="spacingAndGlyphs">3.00</text>
<text x="904" y="474.9" textLength="24" lengthAdjust="spacingAndGlyphs">2.00</text>
<text x="904" y="489.1" textLength="24" lengthAdjust="spacingAndGlyphs">1.00</text>
<text x="904" y="503.3" textLength="24" lengthAdjust="spacingAndGlyphs">0.00</text>
<text x="904" y="536.7" textLength="24" lengthAdjust="spacingAndGlyphs">7.00</text>
<text x="904" y="553" textLength="24" lengthAdjust="spacingAndGlyphs">6.00</text>
<text x="904" y="569.4" textLength="24" lengthAdjust="spacingAndGlyphs">5.00</text>
<text x="904" y="585.7" textLength="24" lengthAdjust="spacingAndGlyphs">4.00</text>
<text x="904" y="602" textLength="24" lengthAdjust="spacingAndGlyphs">3.00</text>
<text x="904" y="618.3" textLength="24" lengthAdjust="spacingAndGlyphs">2.00</text>
<text x="904" y="634.7" textLength="24" lengthAdjust="spacingAndGlyphs">1.00</text>
<text x="904" y="676.3" textLength="24" lengthAdjust="spacingAndGlyphs">5.00</text>
<text x="904" y="690.3" textLength="24" lengthAdjust="spacingAndGlyphs">4.00</text>
<text x="904" y="704.3" textLength="24" lengthAdjust="spacingAndGlyphs">3.00</text>
<text x="904" y="718.3" textLength="24" lengthAdjust="spacingAndGlyphs">2.00</text>
<text x="904" y="732.3" textLength="24" lengthAdjust="spacingAndGlyphs">1.00</text>
<text x="904" y="762" textLength="24" lengthAdjust="spacingAndGlyphs">2.00</text>
<text x="904" y="813.5" textLength="24" lengthAdjust="spacingAndGlyphs">1.00</text>
<text x="904" y="865" textLength="24" lengthAdjust="spacingAndGlyphs">0.00</text>
</g>

<!-- side tab -->
<rect x="921.5" y="448.5" width="10.5" height="18" fill="#f4f4f4" stroke="#c8c8c8" stroke-width="1"/>
<polyline points="928.5,454 925,457.5 928.5,461" fill="none" stroke="#777" stroke-width="2"/>
</svg>
</body></html>
